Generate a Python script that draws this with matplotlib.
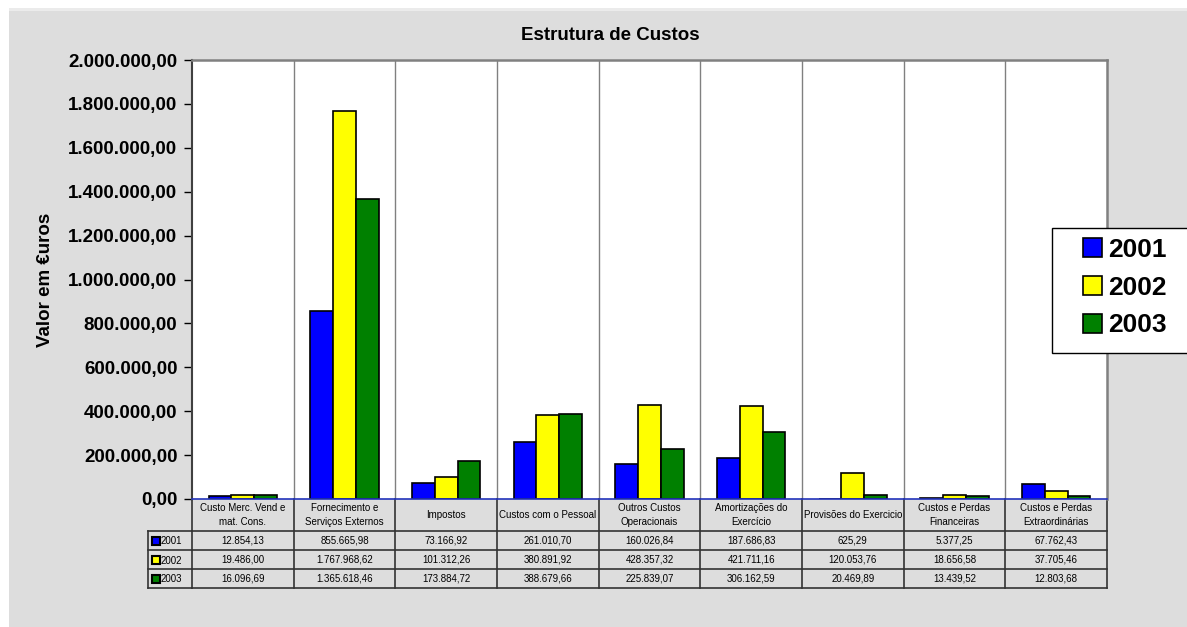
import matplotlib
matplotlib.use("Agg")
import matplotlib.pyplot as plt
import matplotlib.transforms as mtransforms
from matplotlib.patches import Rectangle, Patch
from matplotlib.lines import Line2D
import numpy as np

plt.rcParams['font.family'] = ['Liberation Sans', 'DejaVu Sans']

categories = ["Custo Merc. Vend e\nmat. Cons.", "Fornecimento e\nServiços Externos", "Impostos",
              "Custos com o Pessoal", "Outros Custos\nOperacionais", "Amortizações do\nExercício",
              "Provisões do Exercicio", "Custos e Perdas\nFinanceiras", "Custos e Perdas\nExtraordinárias"]
years = ["2001", "2002", "2003"]
v2001 = [12854.13, 855665.98, 73166.92, 261010.70, 160026.84, 187686.83, 625.29, 5377.25, 67762.43]
v2002 = [19486.00, 1767968.62, 101312.26, 380891.92, 428357.32, 421711.16, 120053.76, 18656.58, 37705.46]
v2003 = [16096.69, 1365618.46, 173884.72, 388679.66, 225839.07, 306162.59, 20469.89, 13439.52, 12803.68]
yticks = [0, 200000, 400000, 600000, 800000, 1000000, 1200000, 1400000, 1600000, 1800000, 2000000]
series = [v2001, v2002, v2003]
colors = ["#0000FF", "#FFFF00", "#008000"]

W, H = 1187, 627
fig = plt.figure(figsize=(W / 100, H / 100), dpi=100)
fig.patch.set_facecolor("white")

def fx(p):
    return p / W

def fy(p):
    return 1 - p / H

# grey panel
fig.patches.append(Rectangle((fx(9), 0), 1 - fx(9), fy(11), transform=fig.transFigure,
                             facecolor="#DDDDDD", edgecolor="none", zorder=-10))
fig.patches.append(Rectangle((fx(9), fy(11)), 1 - fx(9), fy(8) - fy(11), transform=fig.transFigure,
                             facecolor="#EBEBEB", edgecolor="none", zorder=-10))

L, R, T, B = 192, 1107, 60, 499
ax = fig.add_axes([fx(L), fy(B), fx(R) - fx(L), fy(T) - fy(B)])
ax.set_facecolor("white")

def fmt(v):
    s = f"{v:,.2f}"
    return s.replace(",", "X").replace(".", ",").replace("X", ".")

n = len(categories)
x = np.arange(n)
bw = 0.225
for i, (vals, c) in enumerate(zip(series, colors)):
    ax.bar(x + (i - 1) * bw, vals, width=bw, color=c, edgecolor="black", linewidth=1.2, zorder=3)

ax.set_xlim(-0.5, n - 0.5)
ax.set_ylim(0, 2000000)
ax.set_yticks(yticks)
ax.set_yticklabels([fmt(v) for v in yticks], fontsize=13.5, fontweight="bold")
ax.tick_params(axis="y", direction="out", length=6, width=1, pad=4.5, colors="black")
ax.set_xticks([])
for b in np.arange(0.5, n - 0.5, 1.0):
    ax.axvline(b, color="#808080", lw=1, zorder=1)
ax.spines["top"].set_color("#808080")
ax.spines["top"].set_linewidth(1.8)
ax.spines["right"].set_color("#808080")
ax.spines["right"].set_linewidth(1.8)
ax.spines["left"].set_color("#404040")
ax.spines["left"].set_linewidth(1.5)
ax.spines["bottom"].set_color("#2233BB")
ax.spines["bottom"].set_linewidth(1.2)
ax.spines["bottom"].set_zorder(5)

fig.text(fx(610), fy(36), "Estrutura de Custos", ha="center", va="center", fontsize=13.5, fontweight="bold")
fig.text(fx(46), fy(280), "Valor em €uros", ha="center", va="center", rotation=90, fontsize=13.5, fontweight="bold")

# data table below axes
tr = mtransforms.blended_transform_factory(ax.transData, fig.transFigure)
rows_y = [499, 531, 550, 569, 588]
line_c = "#333333"
for k in range(n + 1):
    xb = k - 0.5
    ax.add_line(Line2D([xb, xb], [fy(rows_y[0]), fy(rows_y[-1])], transform=tr, color=line_c, lw=1.2, clip_on=False))
for j, yy in enumerate(rows_y[1:]):
    ax.add_line(Line2D([-0.5, n - 0.5], [fy(yy), fy(yy)], transform=tr, color=line_c, lw=1.2, clip_on=False))
for k, cat in enumerate(categories):
    ax.text(k, fy((rows_y[0] + rows_y[1]) / 2), cat, transform=tr, ha="center", va="center",
            fontsize=7, linespacing=1.45)
    for r, vals in enumerate(series):
        ax.text(k, fy((rows_y[r + 1] + rows_y[r + 2]) / 2), fmt(vals[k]), transform=tr,
                ha="center", va="center", fontsize=7)

# left label column (figure coords)
lx0, lx1 = 148, 192
fig.add_artist(Line2D([fx(lx0), fx(lx0)], [fy(rows_y[1]), fy(rows_y[-1])], color=line_c, lw=1.2))
fig.add_artist(Line2D([fx(lx0), fx(lx1)], [fy(rows_y[1]), fy(rows_y[1])], color=line_c, lw=1.2))
for r in range(3):
    fig.add_artist(Line2D([fx(lx0), fx(lx1)], [fy(rows_y[r + 2]), fy(rows_y[r + 2])], color=line_c, lw=1.2))
    cy = (rows_y[r + 1] + rows_y[r + 2]) / 2
    fig.patches.append(Rectangle((fx(152), fy(cy + 4)), fx(8), (8 / H), transform=fig.transFigure,
                                 facecolor=colors[r], edgecolor="black", linewidth=1.5))
    fig.text(fx(161), fy(cy + 1), years[r], ha="left", va="center", fontsize=7)

# legend: frame drawn separately (clipped by the figure's right edge)
fig.patches.append(Rectangle((fx(1052), fy(353)), fx(1200) - fx(1052), fy(228) - fy(353),
                             transform=fig.transFigure, facecolor="white", edgecolor="black",
                             linewidth=1, zorder=4))
handles = [Patch(facecolor=c, edgecolor="black", linewidth=1.2) for c in colors]
leg = fig.legend(handles, years, loc="upper left", bbox_to_anchor=(fx(1083), fy(238)),
                 prop={"size": 19, "weight": "bold"}, frameon=False,
                 handlelength=0.72, handleheight=0.72, handletextpad=0.22, labelspacing=0.52,
                 borderpad=0, borderaxespad=0)
leg.set_zorder(5)

fig.savefig("out.png", dpi=100)
